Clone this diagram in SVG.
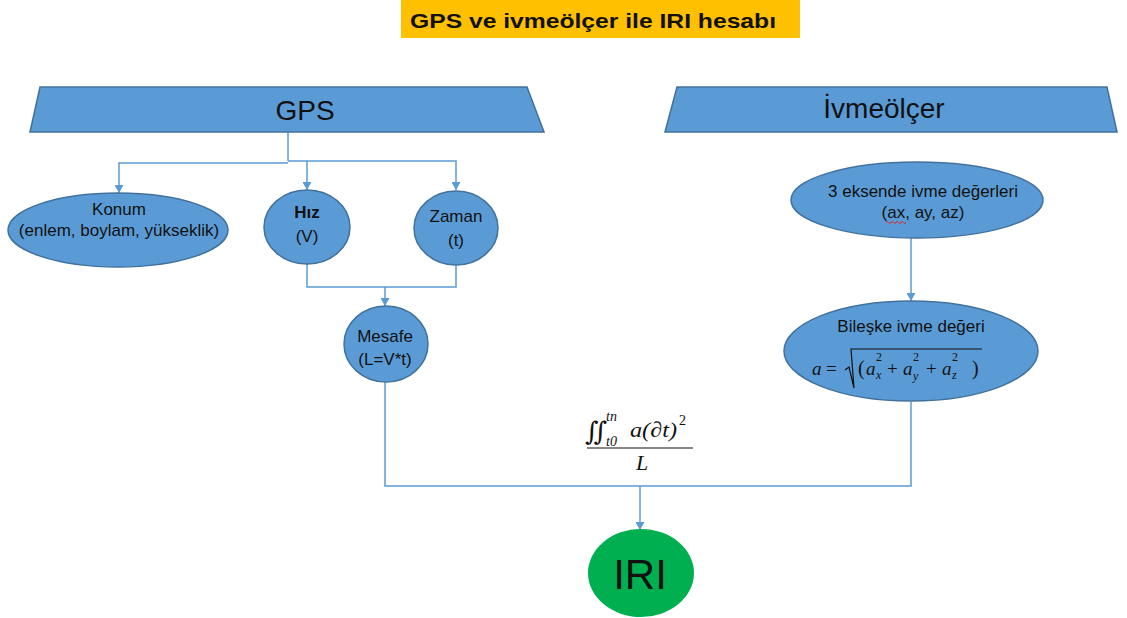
<svg xmlns="http://www.w3.org/2000/svg" width="1127" height="618" viewBox="0 0 1127 618">
<defs>
<style>
.node{fill:#5B9BD5;stroke:#41719C;stroke-width:1.5}
.t{font-family:"Liberation Sans",Arial,sans-serif;font-size:17px;fill:#111;text-anchor:middle}
.big{font-family:"Liberation Sans",Arial,sans-serif;font-size:28px;fill:#111;text-anchor:middle}
.m{font-family:"Liberation Serif","Times New Roman",serif;font-style:italic;fill:#111}
.r{font-family:"Liberation Serif","Times New Roman",serif;fill:#111}
.c{fill:none;stroke:#5B9BD5;stroke-width:1.5}
</style>
<marker id="arr" markerUnits="userSpaceOnUse" markerWidth="9" markerHeight="9" refX="8" refY="4.5" orient="auto" viewBox="0 0 9 9">
<path d="M0,0 L8,4.5 L0,9 Z" fill="#5B9BD5"/>
</marker>
</defs>
<rect width="1127" height="618" fill="#fff"/>

<g id="title">
<rect x="401" y="0" width="399" height="38" fill="#FFC000"/>
<text x="410" y="28" font-family="Liberation Sans,Arial,sans-serif" font-weight="bold" font-size="21" fill="#111" textLength="366" lengthAdjust="spacingAndGlyphs">GPS ve ivmeölçer ile IRI hesabı</text>
</g>

<g id="connectors">
<path class="c" d="M288,132 V161"/>
<path class="c" d="M288,163 H119 V193" marker-end="url(#arr)"/>
<path class="c" d="M288,161 H456 V190" marker-end="url(#arr)"/>
<path class="c" d="M307,161 V190" marker-end="url(#arr)"/>
<path class="c" d="M307,263 V287 H456 V265"/>
<path class="c" d="M385,287 V306" marker-end="url(#arr)"/>
<path class="c" d="M385,382 V486 H911 V402"/>
<path class="c" d="M640,486 V530" marker-end="url(#arr)"/>
<path class="c" d="M911,238 V301" marker-end="url(#arr)"/>
</g>

<g id="gps">
<polygon class="node" points="40,87 527,87 544,132 30,132"/>
<text class="big" x="305" y="120">GPS</text>
</g>

<g id="ivmeolcer">
<polygon class="node" points="677,87 1107,87 1117,132 665,132"/>
<text class="big" x="884" y="118">İvmeölçer</text>
</g>

<g id="konum">
<ellipse class="node" cx="118" cy="230" rx="110" ry="37"/>
<text class="t" x="119" y="215">Konum</text>
<text class="t" x="119" y="236">(enlem, boylam, yükseklik)</text>
</g>

<g id="hiz">
<ellipse class="node" cx="307" cy="227" rx="43" ry="37"/>
<text class="t" x="307" y="218" font-weight="bold">Hız</text>
<text class="t" x="307" y="242">(V)</text>
</g>

<g id="zaman">
<ellipse class="node" cx="456" cy="228" rx="42" ry="37"/>
<text class="t" x="456" y="222">Zaman</text>
<text class="t" x="456" y="246">(t)</text>
</g>

<g id="mesafe">
<ellipse class="node" cx="386" cy="344" rx="42" ry="38"/>
<text class="t" x="385" y="342">Mesafe</text>
<text class="t" x="385" y="365">(L=V*t)</text>
</g>

<g id="eksen">
<ellipse class="node" cx="917" cy="200" rx="126" ry="38"/>
<text class="t" x="923" y="197">3 eksende ivme değerleri</text>
<text class="t" x="923" y="218">(ax, ay, az)</text>
<path d="M886,222.5 q1.25,-2 2.5,0 t2.5,0 t2.5,0 t2.5,0 t2.5,0 t2.5,0 t2.5,0 t2.5,0" fill="none" stroke="#E02020" stroke-width="1"/>
</g>

<g id="bileske">
<ellipse class="node" cx="911" cy="351" rx="127" ry="50"/>
<text class="t" x="911" y="332">Bileşke ivme değeri</text>
<text class="m" x="812" y="375" font-size="19">a</text>
<text class="r" x="826" y="375" font-size="19">=</text>
<path d="M845,370 L849,367 L854,388 L851,349 H982" fill="none" stroke="#111" stroke-width="1.2"/>
<text class="r" x="858" y="375" font-size="20">(</text>
<text class="m" x="866" y="375" font-size="19">a</text>
<text class="r" x="876" y="361" font-size="12">2</text>
<text class="m" x="876" y="379" font-size="12">x</text>
<text class="r" x="887" y="375" font-size="19">+</text>
<text class="m" x="903" y="375" font-size="19">a</text>
<text class="r" x="913" y="361" font-size="12">2</text>
<text class="m" x="913" y="380" font-size="12">y</text>
<text class="r" x="926" y="375" font-size="19">+</text>
<text class="m" x="942" y="375" font-size="19">a</text>
<text class="r" x="952" y="361" font-size="12">2</text>
<text class="m" x="952" y="379" font-size="12">z</text>
<text class="r" x="972" y="375" font-size="20">)</text>
</g>

<g id="formula">
<text x="585" y="440" font-family="DejaVu Serif,serif" font-size="26" fill="#111">∬</text>
<text class="m" x="606" y="421" font-size="14">tn</text>
<text class="m" x="606" y="446" font-size="14">t0</text>
<text class="m" x="630" y="437" font-size="22" textLength="47" lengthAdjust="spacingAndGlyphs">a(∂t)</text>
<text class="r" x="679" y="425" font-size="14">2</text>
<line x1="587" y1="448" x2="693" y2="448" stroke="#111" stroke-width="1.2"/>
<text class="m" x="636" y="470" font-size="22">L</text>
</g>

<g id="iri">
<ellipse cx="641" cy="573" rx="53" ry="44" fill="#00B050"/>
<text x="640" y="589" font-family="Liberation Sans,Arial,sans-serif" font-size="42" fill="#111" text-anchor="middle">IRI</text>
</g>
</svg>
